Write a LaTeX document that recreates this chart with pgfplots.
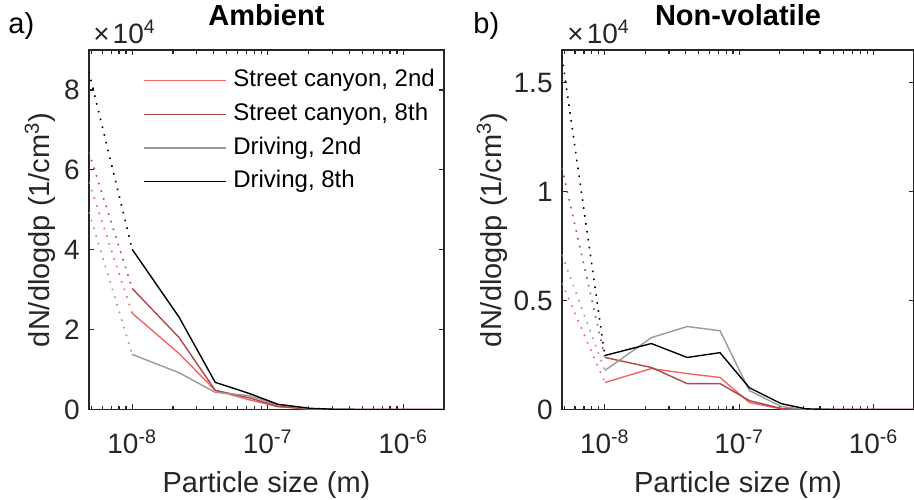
\documentclass[border=0pt]{standalone}
\usepackage{fontspec}
\setmainfont{Liberation Sans}
\usepackage{pgfplots}
\usepackage{pgfplotstable}
\pgfplotsset{compat=1.18}
\definecolor{scII}{RGB}{240,100,100}
\definecolor{scVIII}{RGB}{176,70,70}
\definecolor{drII}{RGB}{153,153,153}
\definecolor{axgray}{RGB}{38,38,38}

\pgfplotstableread{
x        sc2    sc8    dr2    dr8
1e-8     2.41   3.03   1.38   4.01
2.22e-8  1.40   1.80   0.92   2.31
4.1e-8   0.48   0.48   0.43   0.68
7.2e-8   0.25   0.30   0.35   0.41
1.19e-7  0.07   0.08   0.12   0.13
2.05e-7  0.01   0.01   0.02   0.03
3.15e-7  0      0      0      0.005
5e-7     0      0      0      0
1e-6     0      0      0      0
2e-6     0      0      0      0
}\ambient

\pgfplotstableread{
x        sc2    sc8    dr2    dr8
1e-8     0.124  0.239  0.179  0.248
2.22e-8  0.188  0.193  0.330  0.303
4.1e-8   0.165  0.119  0.381  0.239
7.2e-8   0.147  0.119  0.362  0.261
1.19e-7  0.032  0.041  0.087  0.100
2.05e-7  0.003  0.005  0.014  0.027
3.15e-7  0      0      0      0.003
5e-7     0      0      0      0
1e-6     0      0      0      0
2e-6     0      0      0      0
}\nonvol

\tikzset{dotline/.style={line width=0.8pt, dash pattern=on 0.8pt off 3.2pt},
         sline/.style={line width=0.7pt}}

\begin{document}
\begin{tikzpicture}
\begin{axis}[
  scale only axis,
  xmode=log,
  xmin=4.8e-9, xmax=2e-6,
  height=179.75pt,
  xtick={1e-8,1e-7,1e-6},
  xticklabels={10\textsuperscript{-8},10\textsuperscript{-7},10\textsuperscript{-6}},
  minor xtick={5e-9,6e-9,7e-9,8e-9,9e-9,2e-8,3e-8,4e-8,5e-8,6e-8,7e-8,8e-8,9e-8,2e-7,3e-7,4e-7,5e-7,6e-7,7e-7,8e-7,9e-7},
  axis line style={axgray, line width=0.9pt},
  every tick/.style={axgray, line width=0.6pt},
  major tick length=2.6pt, minor tick length=1.8pt,
  tick label style={font=\fontsize{14}{16}\selectfont, text=axgray, inner sep=0pt},
  xticklabel style={anchor=base, yshift=-22pt},
  yticklabel style={anchor=east, xshift=-4.5pt},
  xlabel={Particle size (m)},
  ylabel={dN/dlogdp (1/cm\textsuperscript{3})},
  label style={font=\fontsize{14.5}{17}\selectfont, text=axgray},
  xlabel style={at={(axis description cs:0.5,0)}, anchor=base, yshift=-41.5pt},
  title style={font=\bfseries\fontsize{14.5}{17}\selectfont, at={(axis description cs:0.5,1)}, anchor=base, yshift=6.5pt},
  at={(0pt,0pt)}, anchor=south west,
  width=177.5pt,
  ymin=0, ymax=9,
  ytick={0,2,4,6,8}, yticklabels={0,2,4,6,8},
  ylabel style={at={(axis description cs:-0.138,0.5)}, anchor=center},
  title={Ambient},
  legend cell align=left,
  legend image code/.code={\draw[#1] (0pt,0pt) -- (41pt,0pt);},
  legend style={draw=none, fill=none, at={(axis description cs:0.152,0.948)}, anchor=north west,
    inner sep=0pt, outer sep=0pt, row sep=4.85pt, column sep=3.5pt,
    font=\fontsize{12}{14}\selectfont,
    nodes={inner sep=0pt, text height=9pt, text depth=3pt}},
]
\addplot[scII, dotline, forget plot] coordinates {(4.8e-9,5.69) (1e-8,2.41)};
\addplot[scVIII, dotline, forget plot] coordinates {(4.8e-9,6.44) (1e-8,3.03)};
\addplot[drII, dotline, forget plot] coordinates {(4.8e-9,4.94) (1e-8,1.38)};
\addplot[black, dotline, forget plot] coordinates {(4.8e-9,8.45) (1e-8,4.01)};
\addplot[scII, sline] table[x=x, y=sc2] {\ambient};
\addplot[scVIII, sline] table[x=x, y=sc8] {\ambient};
\addplot[drII, sline] table[x=x, y=dr2] {\ambient};
\addplot[black, sline] table[x=x, y=dr8] {\ambient};
\legend{{Street canyon, 2nd}, {Street canyon, 8th}, {Driving, 2nd}, {Driving, 8th}}
\end{axis}
\begin{axis}[
  scale only axis,
  xmode=log,
  xmin=4.8e-9, xmax=2e-6,
  height=179.75pt,
  xtick={1e-8,1e-7,1e-6},
  xticklabels={10\textsuperscript{-8},10\textsuperscript{-7},10\textsuperscript{-6}},
  minor xtick={5e-9,6e-9,7e-9,8e-9,9e-9,2e-8,3e-8,4e-8,5e-8,6e-8,7e-8,8e-8,9e-8,2e-7,3e-7,4e-7,5e-7,6e-7,7e-7,8e-7,9e-7},
  axis line style={axgray, line width=0.9pt},
  every tick/.style={axgray, line width=0.6pt},
  major tick length=2.6pt, minor tick length=1.8pt,
  tick label style={font=\fontsize{14}{16}\selectfont, text=axgray, inner sep=0pt},
  xticklabel style={anchor=base, yshift=-22pt},
  yticklabel style={anchor=east, xshift=-4.5pt},
  xlabel={Particle size (m)},
  ylabel={dN/dlogdp (1/cm\textsuperscript{3})},
  label style={font=\fontsize{14.5}{17}\selectfont, text=axgray},
  xlabel style={at={(axis description cs:0.5,0)}, anchor=base, yshift=-41.5pt},
  title style={font=\bfseries\fontsize{14.5}{17}\selectfont, at={(axis description cs:0.5,1)}, anchor=base, yshift=6.5pt},
  at={(236.5pt,0pt)}, anchor=south west,
  width=176pt,
  ymin=0, ymax=1.651,
  ytick={0,0.5,1,1.5}, yticklabels={0,0.5,1,1.5},
  ylabel style={at={(axis description cs:-0.199,0.5)}, anchor=center},
  title={Non-volatile},
]
\addplot[scII, dotline] coordinates {(4.8e-9,0.58) (1e-8,0.124)};
\addplot[scVIII, dotline] coordinates {(4.8e-9,1.11) (1e-8,0.239)};
\addplot[drII, dotline] coordinates {(4.8e-9,0.71) (1e-8,0.179)};
\addplot[black, dotline] coordinates {(4.8e-9,1.62) (1e-8,0.248)};
\addplot[scII, sline] table[x=x, y=sc2] {\nonvol};
\addplot[scVIII, sline] table[x=x, y=sc8] {\nonvol};
\addplot[drII, sline] table[x=x, y=dr2] {\nonvol};
\addplot[black, sline] table[x=x, y=dr8] {\nonvol};
\end{axis}
\node[anchor=base west, text=axgray, font=\fontsize{14}{16}\selectfont, inner sep=0pt] at (2pt,183pt) {×\kern1.5pt10\textsuperscript{4}};
\node[anchor=base west, text=axgray, font=\fontsize{14}{16}\selectfont, inner sep=0pt] at (239pt,183pt) {×\kern1.5pt10\textsuperscript{4}};
\node[anchor=base west, font=\fontsize{14.5}{17}\selectfont, inner sep=0pt] at (-40.5pt,188pt) {a)};
\node[anchor=base west, font=\fontsize{14.5}{17}\selectfont, inner sep=0pt] at (192pt,188pt) {b)};
\pgfresetboundingbox
\useasboundingbox (-44.5pt,-44.75pt) rectangle (412.5pt,204.75pt);
\end{tikzpicture}
\end{document}
